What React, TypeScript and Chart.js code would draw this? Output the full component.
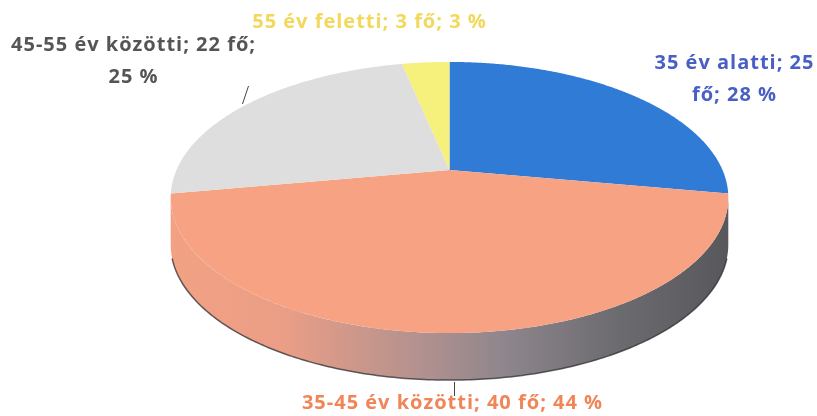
import React, { useEffect, useRef } from "react";
import { Chart, registerables, ArcElement, PieController } from "chart.js";

const categories = ["35 év alatti", "35-45 év közötti", "45-55 év közötti", "55 év feletti"];
const counts = [25, 40, 22, 3];
const percents = [28, 44, 25, 3];
const sliceColors = ["#2f7bd6", "#f6a283", "#dedede", "#f6f07c"];
const labelColors = ["#4a5fc4", "#f08558", "#555555", "#f2d85c"];

// perspective geometry of the 3D pie
const A = 273; // horizontal half-axis scale
const B = 130; // vertical half-axis scale
const K = 0.203; // perspective strength
const DEPTH = 47;
const FONT = "700 20px 'Open Sans'";

function proj(cx: number, cy: number, a: number) {
  const w = 1 / (1 - K * Math.sin(a));
  return { x: cx + A * Math.cos(a) * w, y: cy + B * Math.sin(a) * w };
}

class PerspectiveArc extends ArcElement {
  static id = "perspectiveArc";
  draw(ctx: CanvasRenderingContext2D) {
    const { x, y, startAngle, endAngle } = (this as any).getProps(["x", "y", "startAngle", "endAngle"]);
    const opts: any = (this as any).options;
    const steps = Math.max(4, Math.ceil((endAngle - startAngle) * 120));
    ctx.save();
    ctx.beginPath();
    ctx.moveTo(x, y);
    for (let i = 0; i <= steps; i++) {
      const p = proj(x, y, startAngle + ((endAngle - startAngle) * i) / steps);
      ctx.lineTo(p.x, p.y);
    }
    ctx.closePath();
    ctx.fillStyle = opts.backgroundColor;
    ctx.fill();
    ctx.restore();
  }
}

class Pie3DController extends PieController {
  static id = "pie3d";
  static defaults = { dataElementType: "perspectiveArc" };
}

Chart.register(...registerables, PerspectiveArc, Pie3DController);

function labelLines(i: number): string[] {
  if (i === 0) return [`${categories[i]}; ${counts[i]}`, `fő; ${percents[i]} %`];
  if (i === 2) return [`${categories[i]}; ${counts[i]} fő;`, `${percents[i]} %`];
  return [`${categories[i]}; ${counts[i]} fő; ${percents[i]} %`];
}

const sidePlugin = {
  id: "side3d",
  beforeDatasetsDraw(chart: any) {
    const arcs = chart.getDatasetMeta(0).data;
    if (!arcs.length) return;
    const { x: cx, y: cy } = arcs[0];
    const ctx = chart.ctx;
    const grad = ctx.createLinearGradient(cx - A * 1.02, 0, cx + A * 1.02, 0);
    grad.addColorStop(0, "#f2a183");
    grad.addColorStop(0.2, "#eb9e86");
    grad.addColorStop(0.45, "#b2918f");
    grad.addColorStop(0.6, "#8e868c");
    grad.addColorStop(0.8, "#6c6b70");
    grad.addColorStop(1, "#58585c");
    const lo = Math.asin(K);
    const hi = Math.PI - lo;
    ctx.save();
    arcs.forEach((arc: any) => {
      [0, Math.PI * 2, -Math.PI * 2].forEach((shift) => {
        const s = Math.max(arc.startAngle + shift, lo);
        const e = Math.min(arc.endAngle + shift, hi);
        if (e <= s) return;
        const n = Math.ceil((e - s) * 120);
        ctx.beginPath();
        for (let i = 0; i <= n; i++) {
          const p = proj(cx, cy, s + ((e - s) * i) / n);
          if (i === 0) ctx.moveTo(p.x, p.y);
          else ctx.lineTo(p.x, p.y);
        }
        for (let i = n; i >= 0; i--) {
          const p = proj(cx, cy, s + ((e - s) * i) / n);
          ctx.lineTo(p.x, p.y + DEPTH);
        }
        ctx.closePath();
        ctx.fillStyle = grad;
        ctx.fill();
      });
    });
    // dark lower rim
    ctx.beginPath();
    const n = 200;
    for (let i = 0; i <= n; i++) {
      const p = proj(cx, cy, lo + 0.1 + ((hi - lo - 0.2) * i) / n);
      if (i === 0) ctx.moveTo(p.x, p.y + DEPTH);
      else ctx.lineTo(p.x, p.y + DEPTH);
    }
    ctx.strokeStyle = "rgba(45,45,50,0.75)";
    ctx.lineWidth = 1.5;
    ctx.stroke();
    ctx.restore();
  },
  afterDraw(chart: any) {
    const arcs = chart.getDatasetMeta(0).data;
    if (!arcs.length) return;
    const { x: cx, y: cy } = arcs[0];
    const ctx = chart.ctx;
    // label anchors relative to pie centre
    const anchors = [
      { dx: 285, dy: -107, lh: 32 },
      { dx: 3, dy: 233, lh: 32 },
      { dx: -316, dy: -125, lh: 32 },
      { dx: -80, dy: -148, lh: 32 },
    ];
    ctx.save();
    ctx.font = FONT;
    (ctx as any).letterSpacing = "1px";
    ctx.textAlign = "center";
    ctx.textBaseline = "middle";
    arcs.forEach((_arc: any, i: number) => {
      const a = anchors[i];
      ctx.fillStyle = labelColors[i];
      labelLines(i).forEach((t, k) => ctx.fillText(t, cx + a.dx, cy + a.dy + k * a.lh));
    });
    ctx.strokeStyle = "#444";
    ctx.lineWidth = 1;
    ctx.beginPath();
    ctx.moveTo(cx - 201, cy - 84);
    ctx.lineTo(cx - 207, cy - 66);
    ctx.stroke();
    ctx.beginPath();
    ctx.moveTo(cx + 5, cy + 212);
    ctx.lineTo(cx + 5, cy + 226);
    ctx.stroke();
    ctx.restore();
  },
};

export default function App() {
  const ref = useRef<HTMLCanvasElement>(null);
  useEffect(() => {
    document.body.style.margin = "0";
    const chart = new Chart(ref.current!, {
      type: "pie3d" as any,
      data: {
        labels: categories,
        datasets: [
          {
            data: counts,
            backgroundColor: sliceColors,
            borderWidth: 0,
            clip: false as any,
          },
        ],
      },
      options: {
        responsive: false,
        animation: false,
        layout: { padding: { left: 82, right: 0, top: 0, bottom: 76 } },
        plugins: { legend: { display: false }, tooltip: { enabled: false } },
      } as any,
      plugins: [sidePlugin],
    });
    return () => chart.destroy();
  }, []);
  return (
    <div style={{ width: 817, height: 416, background: "#fff" }}>
      <canvas ref={ref} width={817} height={416} />
    </div>
  );
}
